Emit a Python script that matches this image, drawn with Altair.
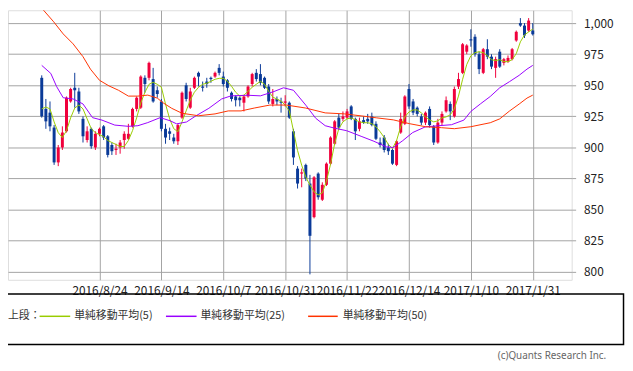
import altair as alt
import pandas as pd

# ---- data ----
tick_idx = [14, 29, 44, 59, 74, 89, 104, 119]
tick_labels = ["2016/8/24", "2016/9/14", "2016/10/7", "2016/10/31",
               "2016/11/22", "2016/12/14", "2017/1/10", "2017/1/31"]

opens = [956, 931, 928, 916, 888, 900, 913, 937, 948, 945, 923, 906, 915, 900, 911, 917, 909, 902, 898, 900,
         906, 907, 917, 931, 932, 956, 956, 955, 946, 937, 915, 913, 908, 905, 924, 950, 932, 948, 960, 949,
         953, 956, 957, 964, 957, 954, 944, 941, 940, 936, 941, 951, 960, 959, 956, 949, 935, 939, 937, 936,
         936, 913, 883, 879, 886, 871, 844, 879, 858, 870, 887, 903, 924, 923, 924, 933, 923, 915, 922, 923,
         925, 919, 904, 908, 900, 898, 886, 912, 919, 947, 937, 932, 925, 920, 931, 917, 904, 920, 929, 935,
         925, 949, 960, 977, 987, 989, 975, 960, 979, 973, 964, 977, 968, 969, 971, 986, 1000, 998, 994, 994]
highs = [958, 939, 937, 918, 902, 917, 941, 948, 960, 948, 925, 917, 916, 913, 916, 918, 910, 904, 903, 906,
         913, 919, 932, 941, 958, 958, 969, 964, 949, 939, 919, 916, 911, 919, 945, 952, 948, 957, 961, 953,
         956, 957, 961, 967, 961, 955, 945, 942, 941, 942, 950, 960, 963, 967, 957, 951, 947, 941, 940, 942,
         937, 915, 885, 883, 887, 878, 877, 880, 872, 888, 909, 922, 927, 929, 931, 934, 924, 924, 925, 927,
         928, 921, 908, 910, 903, 899, 906, 928, 942, 951, 939, 933, 927, 929, 933, 918, 923, 929, 941, 937,
         949, 960, 984, 983, 995, 991, 977, 980, 987, 975, 973, 979, 972, 974, 980, 994, 1004, 1000, 1004, 1000]
lows = [924, 915, 913, 886, 885, 898, 912, 936, 932, 927, 904, 904, 899, 898, 909, 906, 892, 894, 894, 895,
        899, 906, 916, 929, 931, 944, 954, 936, 940, 913, 903, 906, 903, 902, 923, 937, 931, 947, 949, 945,
        948, 952, 956, 958, 949, 945, 937, 933, 933, 929, 940, 949, 953, 950, 947, 935, 933, 934, 928, 933,
        923, 886, 867, 868, 873, 798, 843, 858, 857, 869, 886, 902, 914, 921, 923, 922, 906, 913, 919, 919,
        917, 906, 900, 896, 894, 886, 885, 911, 918, 931, 926, 925, 918, 918, 916, 902, 903, 918, 928, 922,
        924, 947, 959, 975, 981, 973, 959, 959, 971, 963, 956, 964, 966, 968, 970, 985, 997, 988, 993, 990]
closes = [925, 921, 917, 888, 900, 912, 940, 947, 946, 929, 909, 913, 901, 911, 915, 908, 894, 897, 899, 904,
          911, 911, 931, 940, 957, 951, 968, 937, 943, 915, 908, 911, 905, 918, 944, 939, 945, 956, 957, 948,
          951, 955, 960, 960, 951, 948, 939, 938, 938, 941, 949, 959, 955, 952, 948, 937, 939, 937, 936, 937,
          924, 892, 871, 880, 875, 829, 876, 860, 870, 887, 908, 921, 916, 925, 929, 923, 913, 921, 920, 921,
          918, 907, 902, 898, 897, 887, 905, 923, 941, 933, 928, 927, 920, 928, 918, 904, 920, 927, 938, 929,
          947, 955, 983, 982, 986, 975, 963, 979, 973, 965, 971, 965, 971, 972, 979, 993, 998, 990, 1002, 991]

ma5 = [931, 932.5, 931, 920.6, 911.9, 908, 913.5, 923.8, 931.7, 934.1, 931, 923, 915.1, 911.9, 910.3, 908.7,
       905.6, 904, 902.4, 900.8, 900.8, 905.6, 913.5, 923.8, 935.7, 944.4, 950.8, 952.4, 950.8, 948.4,
       934.9, 923, 915.1, 912.7, 920.6, 929.4, 938.1, 944.4, 948.4, 950.8, 951.6, 953.2, 954.8, 955.6, 955.6,
       953.2, 949.2, 944.4, 941.3, 942.1, 945.2, 948.4, 950.8, 953.2, 950.8, 945.2, 940.5, 938.9, 937.3, 934.1,
       929.4, 913.5, 897.6, 885.7, 876.2, 869.8, 864.3, 861.9, 863.5, 873, 886.5, 903.2, 915.1, 920.6, 923,
       923.8, 922.2, 920.6, 919.9, 919.9, 919.1, 916.7, 912.7, 908, 902.4, 899.2, 905.6, 916.7, 924.6, 928.6,
       930.2, 930.2, 927.8, 924.6, 922.2, 920.6, 921.4, 923.8, 924.6, 926.2, 931, 941.3, 954.8, 966.7, 973.8,
       976.2, 977, 976.2, 973.8, 970.6, 969.8, 970.6, 969, 969, 970.6, 975.4, 984.9, 990.5, 992.9, 995.2]

ma25_i = [0, 2.2, 3.6, 5.2, 7.6, 10, 12.3, 14.6, 17.7, 21, 23.3, 25.7, 28.7, 31.1, 32.7, 35.1, 37.4, 40.5,
          43.6, 45.9, 49.9, 53, 56.3, 58.6, 61, 64, 66.4, 68.7, 71, 73.9, 77.4, 80.5, 83.5, 85.2, 87.5, 89.9,
          92.9, 96.2, 99.3, 102.3, 104, 106.3, 108.7, 111, 113.4, 115.7, 117.6, 119]
ma25_v = [966, 959.5, 949, 940, 939, 935, 924, 922, 918, 917, 917.5, 920, 924, 921.5, 919, 920.5, 925.5, 931.5,
          939, 941.5, 942, 941.5, 945, 948, 946, 934, 923.5, 917.5, 915.5, 913.5, 909, 905, 900.5, 900, 905.5,
          912, 916.5, 917.5, 918.3, 922, 929, 935, 941, 948, 953, 958, 963, 966]

ma50_i = [0, 2.9, 5.2, 7.6, 10, 11.8, 14, 16.3, 18.6, 21, 23.3, 25.7, 28, 29.5, 31.5, 34, 38, 42, 45.2, 48.3,
          51.5, 55.3, 59.3, 64, 68.7, 73.4, 77.4, 81.2, 85.2, 89.2, 93, 96.9, 100, 104, 108.7, 111, 113.4,
          115.7, 117.6, 119]
ma50_v = [1012, 1001, 991.3, 983.3, 973, 963, 954, 949.5, 946, 941.3, 941.3, 942.1, 939.7, 935.7, 931.5, 927.5,
          925.5, 927, 929.4, 929.4, 931.7, 934.1, 934.1, 931.7, 927.8, 927, 925.4, 923.8, 922.2, 919.1, 916.7,
          915.9, 915.1, 916.7, 919.9, 923, 929.4, 934.9, 939.7, 942.1]

legend_names = ["単純移動平均(5)", "単純移動平均(25)", "単純移動平均(50)"]
ma_colors = ["#99cc00", "#9900ff", "#ff3300"]
up_color, down_color = "#f0003c", "#0a3a98"

# ---- tables ----
n = len(opens)
candles = pd.DataFrame({"i": list(range(n)), "open": opens, "high": highs, "low": lows, "close": closes})
candles["dir"] = ["up" if c >= o else "down" for o, c in zip(opens, closes)]
ma5_df = pd.DataFrame({"i": list(range(n)), "v": ma5})
ma25_df = pd.DataFrame({"i": ma25_i, "v": ma25_v})
ma50_df = pd.DataFrame({"i": ma50_i, "v": ma50_v})
one = pd.DataFrame({"a": [0]})

GRID = "#a3a3a3"
FONT = "Noto Sans CJK JP"

label_array = "[" + ",".join("'%s'" % s for s in tick_labels) + "]"
x_axis = alt.Axis(values=tick_idx, labelExpr=label_array + "[round((datum.value-14)/15)]",
                  grid=True, gridColor=GRID, ticks=False, domain=False, title=None,
                  labelOverlap=False, labelFont=FONT, labelFontSize=12, labelColor="#222",
                  labelPadding=6, labelFlush=False)
y_axis = alt.Axis(orient="right", values=list(range(800, 1001, 25)), format=",.0f", grid=True,
                  gridColor=GRID, tickColor=GRID, tickSize=4, domain=False, title=None,
                  labelFont=FONT, labelFontSize=12, labelColor="#222", labelPadding=8)
xs = alt.Scale(domain=[-6.98, 127.24], nice=False, zero=False)
ys = alt.Scale(domain=[793.65, 1010.3], nice=False, zero=False)


def X(field):
    return alt.X(field, scale=xs, axis=x_axis)


def Y(field):
    return alt.Y(field, scale=ys, axis=y_axis)


col = alt.Color("dir:N", scale=alt.Scale(domain=["up", "down"], range=[up_color, down_color]), legend=None)

wicks = alt.Chart(candles).mark_rule(strokeWidth=1).encode(x=X("i:Q"), y=Y("low:Q"), y2="high:Q", color=col)
bodies = alt.Chart(candles).mark_bar(size=3).encode(x=X("i:Q"), y=Y("open:Q"), y2="close:Q", color=col)

lines = []
for d, c in zip([ma5_df, ma25_df, ma50_df], ma_colors):
    lines.append(alt.Chart(d).mark_line(color=c, strokeWidth=1, clip=True).encode(x=X("i:Q"), y=Y("v:Q")))

# legend box & items (outside plot area)
box = alt.Chart(one).mark_rect(fill=None, stroke="#000", strokeWidth=1.5).encode(
    x=alt.value(-8.5), x2=alt.value(623.5), y=alt.value(287.5), y2=alt.value(338.5))
leg = [alt.Chart(one).mark_text(align="left", baseline="middle", font=FONT, fontSize=11, color="#333").encode(
    x=alt.value(0), y=alt.value(310), text=alt.value("上段："))]
line_x = [(32, 63), (160, 191), (304, 334)]
text_x = [67, 195, 339]
for (a, b), tx, name, c in zip(line_x, text_x, legend_names, ma_colors):
    leg.append(alt.Chart(one).mark_rule(color=c, strokeWidth=1.5).encode(
        x=alt.value(a), x2=alt.value(b), y=alt.value(310)))
    leg.append(alt.Chart(one).mark_text(align="left", baseline="middle", font=FONT, fontSize=11,
                                        color="#333").encode(x=alt.value(tx), y=alt.value(310),
                                                             text=alt.value(name)))
copy = alt.Chart(one).mark_text(align="right", baseline="middle", font="Noto Sans", fontSize=10,
                                color="#666").encode(x=alt.value(606), y=alt.value(350),
                                                     text=alt.value("(c)Quants Research Inc."))

chart = alt.layer(wicks, bodies, *lines, box, *leg, copy).properties(
    width=571, height=273,
    autosize=alt.AutoSizeParams(type="none"),
    padding={"left": 0, "top": 0, "right": 54, "bottom": 82},
).configure_view(stroke=GRID, strokeWidth=1).configure(background="white")

chart.save("out.html", embed_options={"renderer": "svg", "actions": False})
